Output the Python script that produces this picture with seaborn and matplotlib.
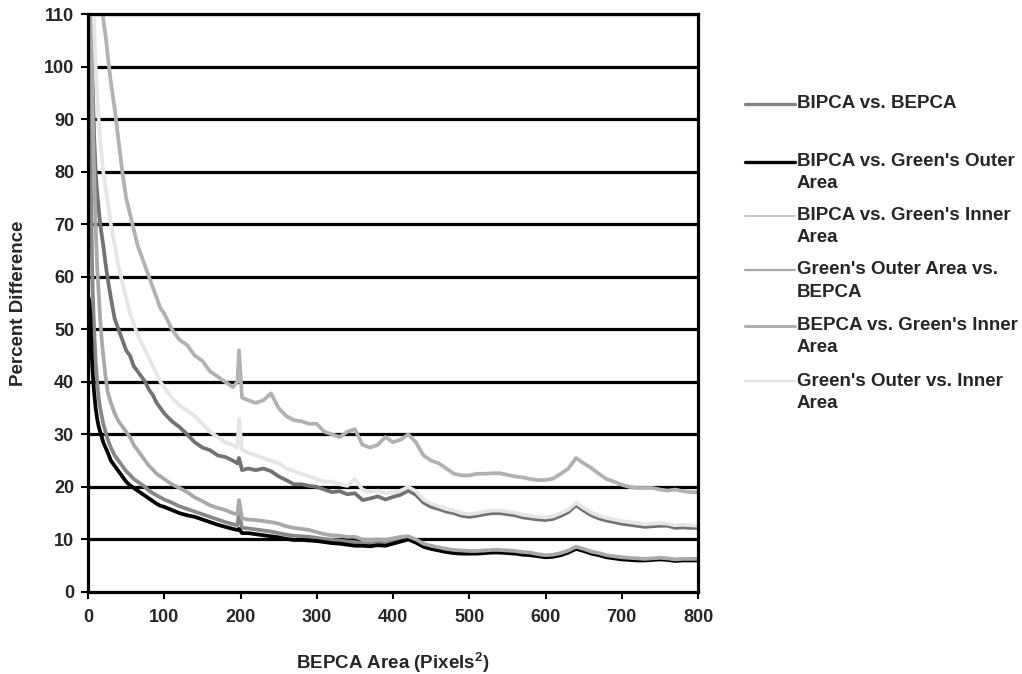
import matplotlib
matplotlib.use("Agg")
import matplotlib.pyplot as plt
from matplotlib.lines import Line2D
import seaborn as sns
import pandas as pd

# ---------------- data ----------------
area = [1, 2, 3, 4, 5, 6, 8, 10, 12, 14, 16, 18, 20, 23, 26, 30,
        35, 40, 45, 50, 55, 60, 65, 70, 75, 80, 85, 90, 95, 100,
        110, 120, 130, 140, 150, 160, 170, 180, 190, 196, 198, 202,
        210, 220, 230, 240, 250, 260, 270, 280, 290, 300,
        310, 320, 330, 340, 350, 360, 370, 380, 390, 400,
        410, 420, 430, 440, 450, 460, 470, 480, 490, 500,
        510, 520, 530, 540, 550, 560, 570, 580, 590, 600,
        610, 620, 630, 640, 650, 660, 670, 680, 690, 700,
        710, 720, 730, 740, 750, 760, 770, 780, 790, 800]

bipca_bepca = [120, 100, 88, 76, 66, 58, 50, 44, 40, 37, 35, 33.5, 32, 30.5, 29, 27.5,
               26, 25, 24, 23, 22.3, 21.5, 21, 20.5, 20, 19.3, 18.8, 18.4, 18, 17.6,
               17, 16.3, 15.8, 15.3, 14.8, 14.3, 13.8, 13.3, 12.9, 12.7, 15, 12.2,
               12.1, 11.9, 11.7, 11.5, 11.2, 10.9, 10.7, 10.6, 10.5, 10.3,
               10.1, 9.9, 9.8, 9.6, 9.5, 9.3, 9.2, 9.4, 9.3, 9.6,
               10.0, 10.3, 9.7, 8.9, 8.5, 8.2, 7.9, 7.7, 7.6, 7.5,
               7.6, 7.6, 7.7, 7.7, 7.6, 7.5, 7.3, 7.2, 7.0, 6.8,
               6.9, 7.2, 7.7, 8.4, 8.0, 7.5, 7.2, 6.8, 6.6, 6.4,
               6.3, 6.2, 6.1, 6.2, 6.3, 6.3, 6.1, 6.1, 6.1, 6.1]

bipca_outer = [56, 55, 53, 49, 45, 42, 38, 35, 33, 31.5, 30.5, 29.5, 28.5, 27.5, 26.5, 25,
               24, 23, 22, 21, 20.3, 19.8, 19.3, 18.8, 18.3, 17.8, 17.3, 16.8, 16.4, 16.2,
               15.6, 15.0, 14.6, 14.3, 13.8, 13.3, 12.8, 12.4, 12.0, 11.8, 12.0, 11.2,
               11.2, 11.0, 10.8, 10.6, 10.4, 10.1, 9.9, 9.9, 9.8, 9.7,
               9.5, 9.3, 9.2, 9.0, 8.8, 8.8, 8.7, 8.9, 8.8, 9.2,
               9.6, 10.0, 9.4, 8.6, 8.2, 7.9, 7.6, 7.4, 7.3, 7.3,
               7.3, 7.4, 7.5, 7.5, 7.4, 7.3, 7.1, 7.0, 6.8, 6.6,
               6.7, 7.0, 7.5, 8.2, 7.8, 7.3, 7.0, 6.6, 6.4, 6.2,
               6.1, 6.0, 6.0, 6.1, 6.2, 6.1, 5.9, 6.0, 6.0, 6.0]

bipca_inner = [150, 135, 122, 112, 104, 97, 87, 80, 76, 73, 70, 68, 66, 62.5, 59.5, 56,
               52, 50, 48, 46, 45, 43, 42, 41, 40, 38.5, 37.5, 36, 35, 34,
               32.5, 31.4, 30, 28.5, 27.5, 27, 26, 25.7, 25, 24.5, 25.5, 23.2,
               23.5, 23.2, 23.5, 23, 22, 21.3, 20.5, 20.5, 20.2, 20,
               19.5, 19, 19.2, 18.6, 18.8, 17.5, 17.8, 18.2, 17.6, 18.1,
               18.5, 19.3, 18.5, 17, 16.2, 15.8, 15.3, 15, 14.5, 14.3,
               14.5, 14.8, 15, 15, 14.8, 14.6, 14.2, 14, 13.8, 13.7,
               13.9, 14.5, 15.2, 16.5, 15.5, 14.6, 14, 13.6, 13.3, 13,
               12.8, 12.6, 12.4, 12.5, 12.6, 12.6, 12.2, 12.3, 12.2, 12.2]

outer_bepca = [150, 130, 118, 108, 100, 92, 80, 70, 62, 57, 52, 48, 45, 41, 38, 36,
               34, 32.5, 31.5, 30.5, 29.5, 28, 27, 26, 25, 24, 23.3, 22.5, 22, 21.5,
               20.5, 19.8, 19, 18, 17.3, 16.5, 16, 15.6, 15, 14.8, 17.5, 14,
               13.8, 13.7, 13.5, 13.3, 13, 12.5, 12.2, 12, 11.8, 11.4,
               11, 10.8, 10.7, 10.5, 10.5, 10, 9.9, 10, 9.9, 10.2,
               10.5, 10.6, 10, 9.2, 8.8, 8.5, 8.2, 8, 7.9, 7.8,
               7.8, 7.9, 8, 8, 7.9, 7.8, 7.6, 7.5, 7.2, 7,
               7.1, 7.4, 7.9, 8.6, 8.2, 7.7, 7.4, 7, 6.8, 6.6,
               6.5, 6.4, 6.3, 6.4, 6.5, 6.4, 6.2, 6.3, 6.3, 6.3]

bepca_inner = [200, 190, 180, 170, 162, 155, 145, 135, 127, 121, 116, 112, 109, 106, 102, 97,
               92, 86, 80, 75, 72, 69, 66, 64, 62, 60, 58, 56, 54, 53,
               50, 48, 47, 45, 44, 42, 41, 40, 39, 40, 46, 37,
               36.5, 36, 36.5, 37.8, 35, 33.5, 32.7, 32.5, 32, 32,
               30.5, 30, 29.5, 30.5, 31, 28, 27.5, 28, 29.5, 28.5,
               29, 30, 28.5, 26, 25, 24.5, 23.5, 22.5, 22.2, 22.2,
               22.5, 22.5, 22.6, 22.6, 22.3, 22, 21.8, 21.5, 21.3, 21.3,
               21.6, 22.5, 23.5, 25.5, 24.5, 23.6, 22.5, 21.5, 21, 20.4,
               20, 19.8, 19.8, 19.8, 19.5, 19.3, 19.5, 19.2, 19, 19]

outer_inner = [170, 155, 142, 132, 124, 117, 108, 100, 95, 90, 86, 83, 80, 77, 74, 70,
               66, 62, 59, 56, 53, 51, 49, 47.5, 46, 44.5, 43, 41.5, 40, 39,
               37, 35.5, 34.5, 33.5, 32, 30.5, 29.5, 28.5, 28, 27.5, 33, 27,
               26.5, 26, 25.5, 25, 24.5, 23.5, 23, 22.5, 22, 21.5,
               21, 21, 20.5, 20.2, 21.5, 19.5, 19, 19.3, 18.8, 19,
               19.3, 20, 19.2, 17.6, 16.8, 16.3, 15.8, 15.5, 15, 14.8,
               15, 15.3, 15.5, 15.5, 15.3, 15.1, 14.7, 14.5, 14.3, 14.2,
               14.4, 15, 15.7, 17, 16, 15.1, 14.5, 14.1, 13.8, 13.5,
               13.3, 13.1, 12.9, 13, 13.1, 13, 12.7, 12.8, 12.7, 12.6]

series_names = ["BIPCA vs. BEPCA",
                "BIPCA vs. Green's Outer Area",
                "BIPCA vs. Green's Inner Area",
                "Green's Outer Area vs. BEPCA",
                "BEPCA vs. Green's Inner Area",
                "Green's Outer vs. Inner Area"]
legend_lines = [["BIPCA vs. BEPCA"],
                ["BIPCA vs. Green's Outer", "Area"],
                ["BIPCA vs. Green's Inner", "Area"],
                ["Green's Outer Area vs.", "BEPCA"],
                ["BEPCA vs. Green's Inner", "Area"],
                ["Green's Outer vs. Inner", "Area"]]
series_values = [bipca_bepca, bipca_outer, bipca_inner, outer_bepca, bepca_inner, outer_inner]

y_ticks = [0, 10, 20, 30, 40, 50, 60, 70, 80, 90, 100, 110]
x_ticks = [0, 100, 200, 300, 400, 500, 600, 700, 800]

# ---------------- styles ----------------
line_colors = ["#888888", "#000000", "#727272", "#a9a9a9", "#b2b2b2", "#e6e6e6"]
legend_colors = ["#858585", "#000000", "#c4c4c4", "#a8a8a8", "#b0b0b0", "#e2e2e2"]
legend_widths = [2.4, 2.4, 1.4, 1.6, 2.2, 1.6]

frames = []
for name, vals in zip(series_names, series_values):
    frames.append(pd.DataFrame({"area": area, "pct": vals, "series": name}))
df = pd.concat(frames, ignore_index=True)

sns.set_theme(style="white")
plt.rcParams["font.family"] = ["Liberation Sans", "DejaVu Sans"]
plt.rcParams["font.weight"] = "bold"
plt.rcParams["mathtext.fontset"] = "custom"
plt.rcParams["mathtext.bf"] = "Liberation Sans:bold"
plt.rcParams["mathtext.rm"] = "Liberation Sans:bold"

fig = plt.figure(figsize=(10.22, 6.74), dpi=100)
ax = fig.add_axes([0.0861, 0.1217, 0.683 - 0.0861, 0.979 - 0.1217])

sns.lineplot(data=df, x="area", y="pct", hue="series", hue_order=series_names,
             palette=dict(zip(series_names, line_colors)), estimator=None,
             sort=False, linewidth=2.7, legend=False, ax=ax, zorder=3)

ax.set_xlim(0, 800)
ax.set_ylim(0, 110)
ax.set_xticks(x_ticks)
ax.set_yticks(y_ticks)
ax.set_xticklabels([str(t) for t in x_ticks], fontsize=13, fontweight="bold")
ax.set_yticklabels([str(t) for t in y_ticks], fontsize=13, fontweight="bold")
ax.tick_params(axis="x", direction="out", length=5, width=1.5, color="black",
               bottom=True, pad=7)
ax.tick_params(axis="y", direction="out", length=5, width=1.5, color="black",
               left=True, pad=5)
ax.grid(False)
for y in y_ticks[1:]:
    ax.axhline(y, color="black", linewidth=2.3, zorder=1)
for s in ax.spines.values():
    s.set_visible(True)
    s.set_color("black")
    s.set_linewidth(2.3)
    s.set_zorder(4)

ax.set_xlabel("BEPCA Area (Pixels$^{2}$)", fontsize=13.5, fontweight="bold", labelpad=18)
ax.set_ylabel("Percent Difference", fontsize=13.5, fontweight="bold", labelpad=12)

# ---------------- legend (drawn at the right, Excel style) ----------------
W, H = 1022.0, 674.0
first_y = [104, 162, 216, 270, 326, 381]
for lines, col, lw, yp in zip(legend_lines, legend_colors, legend_widths, first_y):
    fy = 1 - yp / H
    fig.add_artist(Line2D([745 / W, 795 / W], [fy, fy], color=col, linewidth=lw,
                          transform=fig.transFigure))
    for k, txt in enumerate(lines):
        fig.text(797 / W, 1 - (yp + 22 * k) / H, txt, fontsize=13.5, fontweight="bold",
                 ha="left", va="center")

fig.savefig("out.png", dpi=100)
